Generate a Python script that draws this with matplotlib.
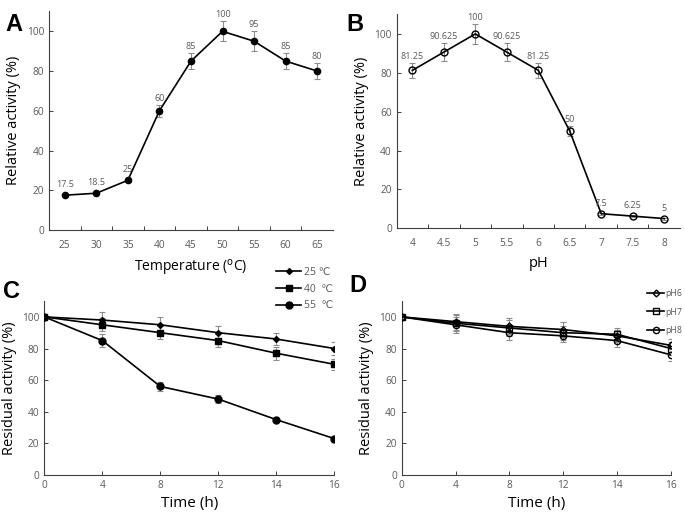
import numpy as np
import matplotlib
matplotlib.use('Agg')
import matplotlib.pyplot as plt

plt.rcParams['font.family'] = ['Open Sans', 'DejaVu Sans']

# ── Data ─────────────────────────────────────────────────────────
temp_labels = ['25', '30', '35', '40', '45', '50', '55', '60', '65']
temp_activity = [17.5, 18.5, 25, 60, 85, 100, 95, 85, 80]
temp_err = [0.5, 0.5, 1, 3, 4, 5, 5, 4, 4]
temp_text = ['17.5', '18.5', '25', '60', '85', '100', '95', '85', '80']

ph_labels = ['4', '4.5', '5', '5.5', '6', '6.5', '7', '7.5', '8']
ph_activity = [81.25, 90.625, 100, 90.625, 81.25, 50, 7.5, 6.25, 5]
ph_err = [4, 4.5, 5, 4.5, 4, 2.5, 0.5, 0.5, 0.5]
ph_text = ['81.25', '90.625', '100', '90.625', '81.25', '50', '7.5', '6.25', '5']

time_labels = ['0', '4', '8', '12', '14', '16']
res_25 = [100, 98, 95, 90, 86, 80]
err_25 = [0, 5, 5, 4.5, 3.5, 4]
res_40 = [100, 95, 90, 85, 77, 70]
err_40 = [0, 4, 4, 4, 4, 3.5]
res_55 = [100, 85, 56, 48, 35, 23]
err_55 = [0, 4, 3, 2.5, 1, 0.5]

res_ph6 = [100, 97, 94, 92, 88, 82]
err_ph6 = [0, 5, 5, 4.5, 4, 4]
res_ph7 = [100, 96, 93, 90, 89, 80]
err_ph7 = [0, 5, 5, 4.5, 4, 4]
res_ph8 = [100, 95, 90, 88, 85, 76]
err_ph8 = [0, 5, 4.5, 4, 4, 4]

TICK_GREY = '#595959'
ERR_GREY = '#8c8c8c'


def style_axes(ax):
    for s in ['top', 'right']:
        ax.spines[s].set_visible(False)
    for s in ['left', 'bottom']:
        ax.spines[s].set_color('#404040')
        ax.spines[s].set_linewidth(0.8)
    ax.tick_params(which='both', direction='in', length=3, width=0.7,
                   color='#404040', labelsize=7.3, labelcolor=TICK_GREY)
    ax.set_ylim(0, 110)
    ax.set_yticks(np.arange(0, 101, 20))


def errline(ax, x, y, err, marker, ms, mfc, label=None):
    ax.errorbar(x, y, yerr=err, fmt='none', ecolor=ERR_GREY,
                elinewidth=0.8, capsize=2.5, capthick=0.8, zorder=2)
    ax.plot(x, y, color='black', lw=1.2, marker=marker, ms=ms,
            mfc=mfc, mec='black', mew=1.0, label=label, zorder=3)


fig = plt.figure(figsize=(6.85, 5.13), dpi=100)

# ── A: temperature ──────────────────────────────────────────────
axA = fig.add_axes([0.0715, 0.5517, 0.4146, 0.426])
xa = np.arange(len(temp_labels)) + 0.5
errline(axA, xa, temp_activity, temp_err, 'o', 4.5, 'black')
for x, y, e, t in zip(xa, temp_activity, temp_err, temp_text):
    axA.text(x, y + max(e, 2) + 1, t, ha='center', va='bottom',
             fontsize=6.5, color=TICK_GREY)
style_axes(axA)
axA.set_xlim(0, len(temp_labels))
axA.set_xticks(np.arange(1, len(temp_labels)))
axA.set_xticklabels([])
axA.set_xticks(xa, minor=True)
axA.set_xticklabels(temp_labels, minor=True)
axA.tick_params(axis='x', which='minor', length=0, pad=7)
axA.set_xlabel('Temperature ($^{\\rm o}$C)', fontsize=10, labelpad=5)
axA.set_ylabel('Relative activity (%)', fontsize=10.5)

# ── B: pH ───────────────────────────────────────────────────────
axB = fig.add_axes([0.579, 0.555, 0.4136, 0.4168])
xb = np.arange(len(ph_labels)) + 0.5
errline(axB, xb, ph_activity, ph_err, 'o', 5, 'none')
for x, y, e, t in zip(xb, ph_activity, ph_err, ph_text):
    axB.text(x, y + max(e, 2) + 1, t, ha='center', va='bottom',
             fontsize=6.5, color=TICK_GREY)
style_axes(axB)
axB.set_xlim(0, len(ph_labels))
axB.set_xticks(np.arange(1, len(ph_labels)))
axB.set_xticklabels([])
axB.set_xticks(xb, minor=True)
axB.set_xticklabels(ph_labels, minor=True)
axB.tick_params(axis='x', which='minor', length=0, pad=7)
axB.set_xlabel('pH', fontsize=10.5, labelpad=5)
axB.set_ylabel('Relative activity (%)', fontsize=10.5)

# ── C: thermostability ──────────────────────────────────────────
axC = fig.add_axes([0.0647, 0.0741, 0.4234, 0.339])
xc = np.arange(len(time_labels))
errline(axC, xc, res_25, err_25, 'D', 3, 'black', '25 \u2103')
errline(axC, xc, res_40, err_40, 's', 5, 'black', '40  \u2103')
errline(axC, xc, res_55, err_55, 'o', 5, 'black', '55  \u2103')
style_axes(axC)
axC.set_xlim(0, len(time_labels) - 1)
axC.set_xticks(xc)
axC.set_xticklabels(time_labels)
axC.set_xlabel('Time (h)', fontsize=11, labelpad=4)
axC.set_ylabel('Residual activity (%)', fontsize=10.5)
legC = axC.legend(loc='upper left', bbox_to_anchor=(0.785, 1.22), frameon=False,
                  fontsize=7.5, handlelength=2.4, labelspacing=0.55,
                  handletextpad=0.3, borderaxespad=0)
for t in legC.get_texts():
    t.set_color(TICK_GREY)

# ── D: pH stability ─────────────────────────────────────────────
axD = fig.add_axes([0.5864, 0.0741, 0.393, 0.339])
errline(axD, xc, res_ph6, err_ph6, 'D', 3.5, 'none', 'pH6')
errline(axD, xc, res_ph7, err_ph7, 's', 4.5, 'none', 'pH7')
errline(axD, xc, res_ph8, err_ph8, 'o', 4.5, 'none', 'pH8')
style_axes(axD)
axD.set_xlim(0, len(time_labels) - 1)
axD.set_xticks(xc)
axD.set_xticklabels(time_labels)
axD.set_xlabel('Time (h)', fontsize=11, labelpad=4)
axD.set_ylabel('Residual activity (%)', fontsize=10.5)
legD = axD.legend(loc='upper left', bbox_to_anchor=(0.9, 1.09), frameon=False,
                  fontsize=6.3, handlelength=1.9, labelspacing=1.1,
                  handletextpad=0.1, borderaxespad=0)
for t in legD.get_texts():
    t.set_color(TICK_GREY)

# ── Panel letters ───────────────────────────────────────────────
for lab, x, y in [('A', 0.008, 0.975), ('B', 0.505, 0.975),
                  ('C', 0.005, 0.455), ('D', 0.51, 0.465)]:
    fig.text(x, y, lab, fontsize=17, fontweight='bold',
             family='Liberation Sans', va='top', ha='left')

fig.savefig('out.png', dpi=100)
